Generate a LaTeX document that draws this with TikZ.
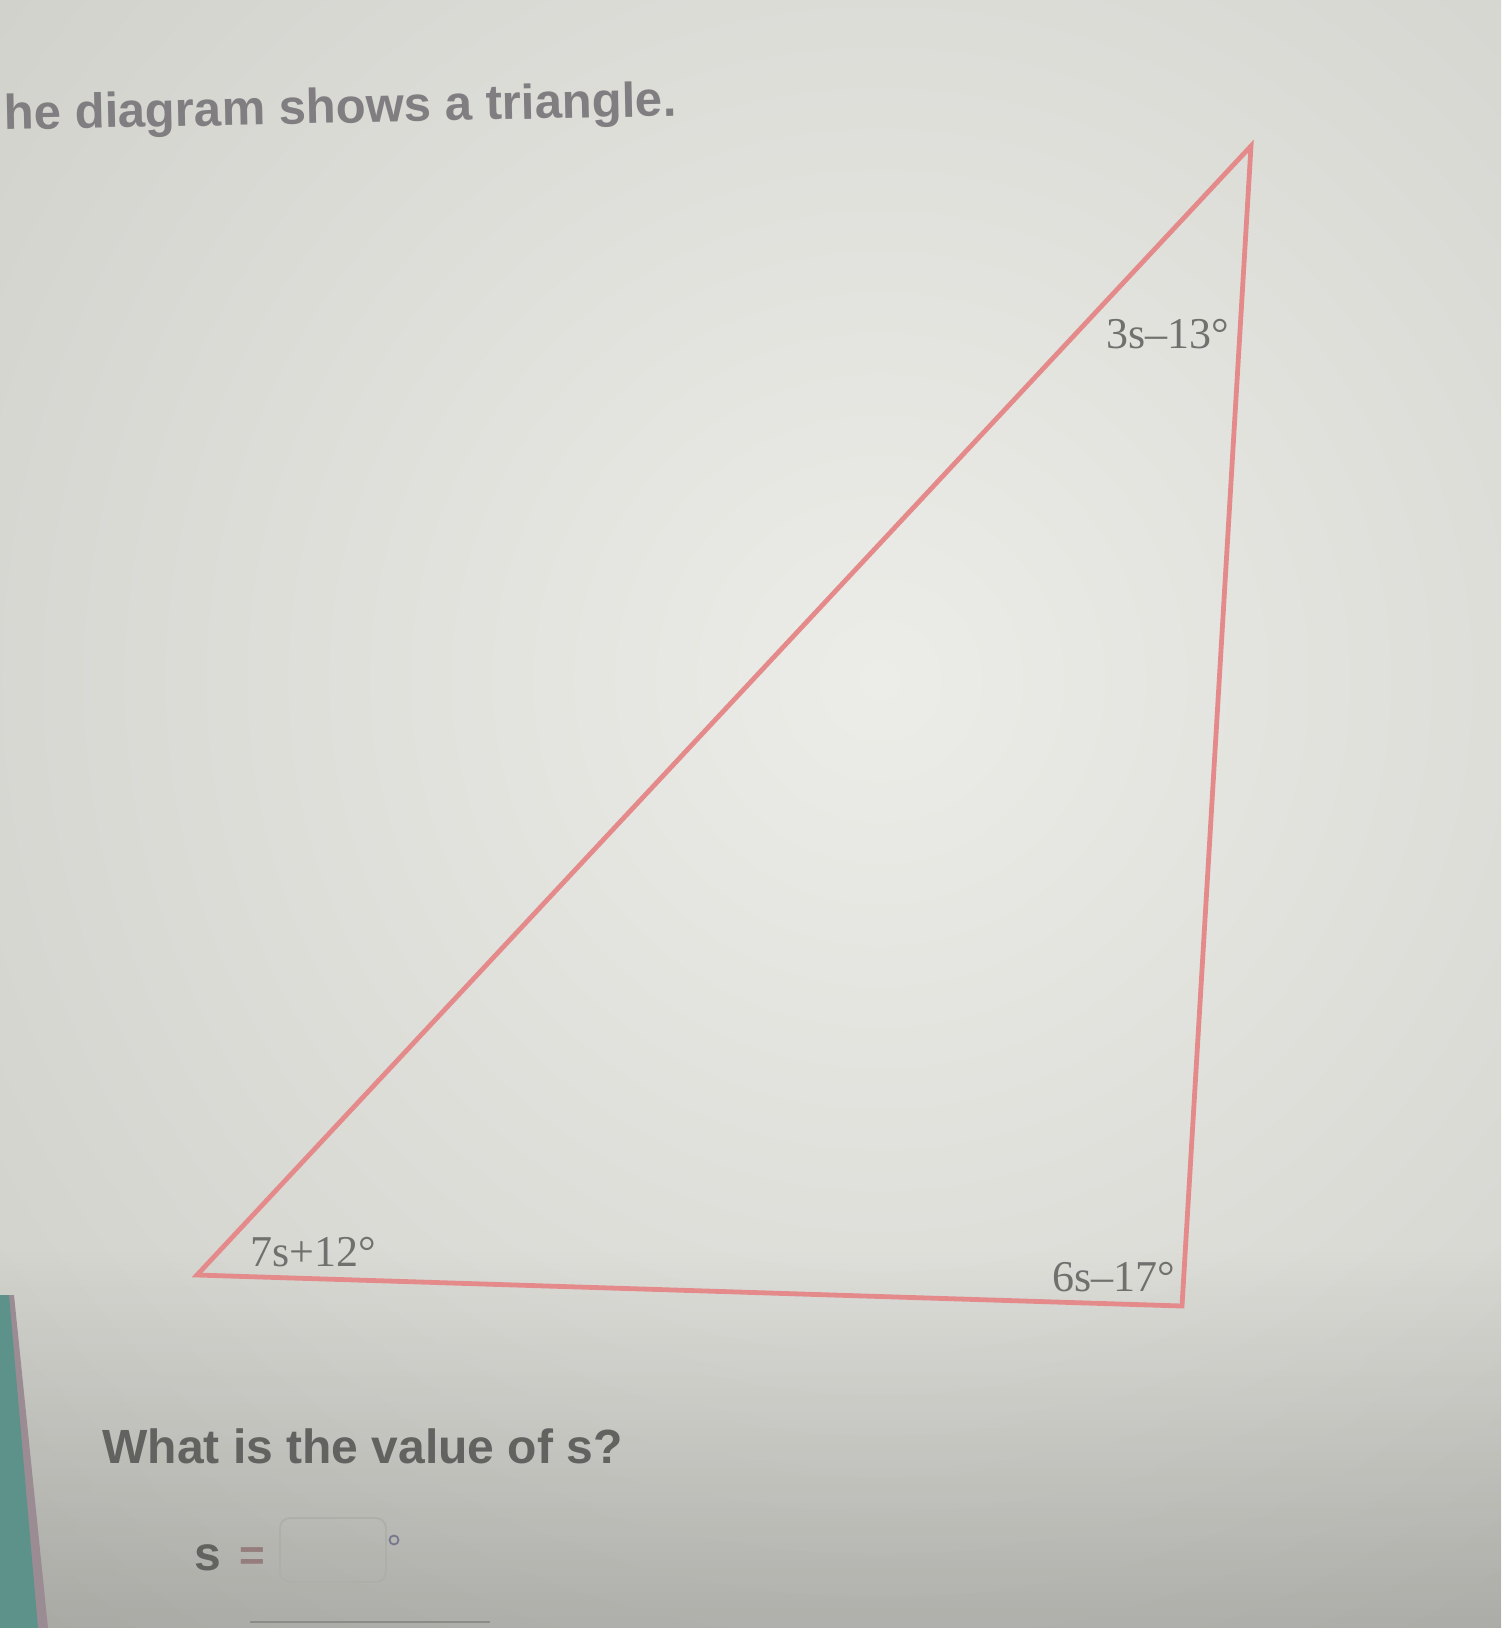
\documentclass[tikz,border=0pt]{standalone}
\usepackage{fontspec}
\setmainfont{Liberation Sans}
\newfontfamily\labfont{Liberation Serif}
\usetikzlibrary{fadings}
\definecolor{bgouter}{RGB}{168,168,161}
\definecolor{bginner}{RGB}{236,236,232}
\definecolor{tri}{RGB}{228,138,138}
\definecolor{txt}{RGB}{112,112,110}
\definecolor{qtxt}{RGB}{98,98,96}
\definecolor{headcol}{RGB}{128,126,128}
\definecolor{tealstrip}{RGB}{92,146,138}
\definecolor{mauve}{RGB}{155,140,148}
\definecolor{faint}{RGB}{140,140,135}
\definecolor{boxcol}{RGB}{175,175,170}
\definecolor{eqcol}{RGB}{150,125,125}
\definecolor{degcol}{RGB}{120,120,140}
\tikzset{
  trisides/.style={draw=tri, line width=2.4pt, line join=miter},
  anglelab/.style={font=\labfont\fontsize{22}{26}\selectfont, text=txt, inner sep=0pt},
  headtext/.style={font=\fontsize{24.5}{30}\selectfont\bfseries, text=headcol, inner sep=0pt},
  questext/.style={font=\fontsize{24}{29}\selectfont\bfseries, text=qtxt, inner sep=0pt},
  ansbox/.style={draw=boxcol, line width=0.9pt, rounded corners=5pt, minimum width=53pt, minimum height=32pt, inner sep=0pt},
}
\begin{document}
\begin{tikzpicture}[x=0.5pt,y=-0.5pt]
\useasboundingbox (0,0) rectangle (1501,1628);
% background (photo lighting)
\begin{scope}
\clip (0,0) rectangle (1501,1628);
\fill[bgouter] (0,0) rectangle (1501,1628);
\shade[inner color=bginner, outer color=bgouter] (880,680) circle[radius=2900];
\fill[black, opacity=0.18, path fading=north] (0,1250) rectangle (1501,1628);
\fill[mauve] (0,1295) -- (14,1295) -- (48,1628) -- (0,1628) -- cycle;
\fill[tealstrip] (0,1295) -- (9,1295) -- (38,1628) -- (0,1628) -- cycle;
\draw[faint, line width=1pt] (250,1622) -- (490,1622);
\end{scope}
% heading
\node[headtext, anchor=base west, rotate=1.2] (head) at (4,130) {he diagram shows a triangle.};
% triangle
\coordinate (A) at (197,1275);
\coordinate (B) at (1251,146);
\coordinate (C) at (1182,1306);
\draw[trisides] (A) -- (B) -- (C) -- cycle;
\node[anglelab] (lb) at (1168,334) {3s–13°};
\node[anglelab] (la) at (313,1252) {7s+12°};
\node[anglelab] (lc) at (1114,1277) {6s–17°};
% question
\node[questext, anchor=base west] (q) at (102,1463) {What is the value of s?};
% answer row
\node[questext, anchor=base] (s) at (208,1570) {s};
\node[anchor=base, font=\fontsize{22}{26}\selectfont\bfseries, text=eqcol, inner sep=0pt] (eq) at (252,1570) {=};
\node[ansbox] (box) at (333,1550) {};
\node[draw=degcol, circle, line width=0.9pt, minimum size=4.5pt, inner sep=0pt] (deg) at (394,1540) {};
\end{tikzpicture}
\end{document}
